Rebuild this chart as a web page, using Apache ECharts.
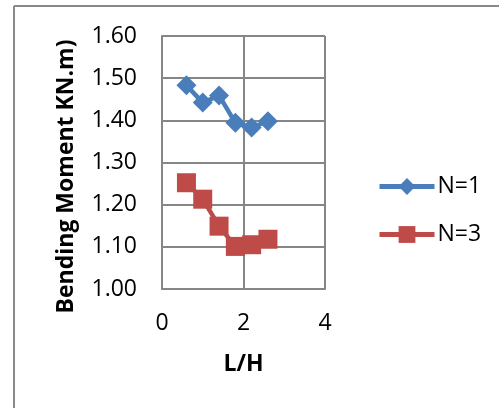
<!DOCTYPE html>
<html>
<head>
<meta charset="utf-8">
<script src="https://cdn.jsdelivr.net/npm/echarts@6/dist/echarts.min.js"></script>
<style>
  html, body { margin: 0; padding: 0; background: #fff; }
  #chart { width: 499px; height: 408px; }
</style>
</head>
<body>
<div id="chart"></div>
<script>
// L/H ratios on the x axis
var ratioLH = [0.6, 1.0, 1.4, 1.8, 2.2, 2.6];
// Bending moment (kN.m) for each case
var momentN1 = [1.483, 1.442, 1.459, 1.394, 1.383, 1.398];
var momentN3 = [1.252, 1.213, 1.149, 1.101, 1.105, 1.118];
var seriesNames = ['N=1', 'N=3'];

function pairs(xs, ys) {
  return xs.map(function (x, i) { return [x, ys[i]]; });
}

var gridGray = '#868686';
var font = '"Open Sans", "Liberation Sans", sans-serif';

var chart = echarts.init(document.getElementById('chart'), null, { renderer: 'canvas' });
chart.setOption({
  animation: false,
  backgroundColor: '#fff',
  graphic: [
    { type: 'line', shape: { x1: 14, y1: 6, x2: 499, y2: 6 }, style: { stroke: '#898989', lineWidth: 2 } },
    { type: 'line', shape: { x1: 14, y1: 6, x2: 14, y2: 408 }, style: { stroke: '#898989', lineWidth: 2 } }
  ],
  grid: { left: 162, right: 174, top: 36, bottom: 119 },
  xAxis: {
    type: 'value', min: 0, max: 4, interval: 2,
    name: 'L/H', nameLocation: 'middle', nameGap: 64,
    nameTextStyle: { fontFamily: font, fontWeight: 'bold', fontSize: 23, color: '#000' },
    axisLine: { show: true, lineStyle: { color: gridGray, width: 2 } },
    axisTick: { show: false },
    axisLabel: { fontFamily: font, fontSize: 23, color: '#000', margin: 23 },
    splitLine: { show: true, lineStyle: { color: gridGray, width: 2 } }
  },
  yAxis: {
    type: 'value', min: 1.0, max: 1.6, interval: 0.1,
    name: 'Bending Moment KN.m)', nameLocation: 'middle', nameGap: 84, nameRotate: 90,
    nameTextStyle: { fontFamily: font, fontWeight: 'bold', fontSize: 23, color: '#000',
      padding: [0, 28, 0, 0] },
    axisLine: { show: true, lineStyle: { color: gridGray, width: 2 } },
    axisTick: { show: false },
    axisLabel: { fontFamily: font, fontSize: 23, color: '#000', margin: 25,
      formatter: function (v) { return v.toFixed(2); } },
    splitLine: { show: true, lineStyle: { color: gridGray, width: 2 } }
  },
  legend: {
    orient: 'vertical', left: 372, top: 170,
    itemWidth: 55, itemHeight: 21, itemGap: 25,
    lineStyle: { width: 5 },
    textStyle: { fontFamily: font, fontSize: 23, color: '#000', padding: [0, 0, 0, -2] },
    data: seriesNames
  },
  series: [
    {
      name: seriesNames[0], type: 'line', data: pairs(ratioLH, momentN1),
      symbol: 'diamond', symbolSize: 20,
      lineStyle: { color: '#4a7ebb', width: 4.5 },
      itemStyle: { color: '#4a7ebb' }
    },
    {
      name: seriesNames[1], type: 'line', data: pairs(ratioLH, momentN3),
      symbol: 'rect', symbolSize: 19,
      lineStyle: { color: '#be4b48', width: 4.5 },
      itemStyle: { color: '#be4b48' }
    }
  ]
});
</script>
</body>
</html>
